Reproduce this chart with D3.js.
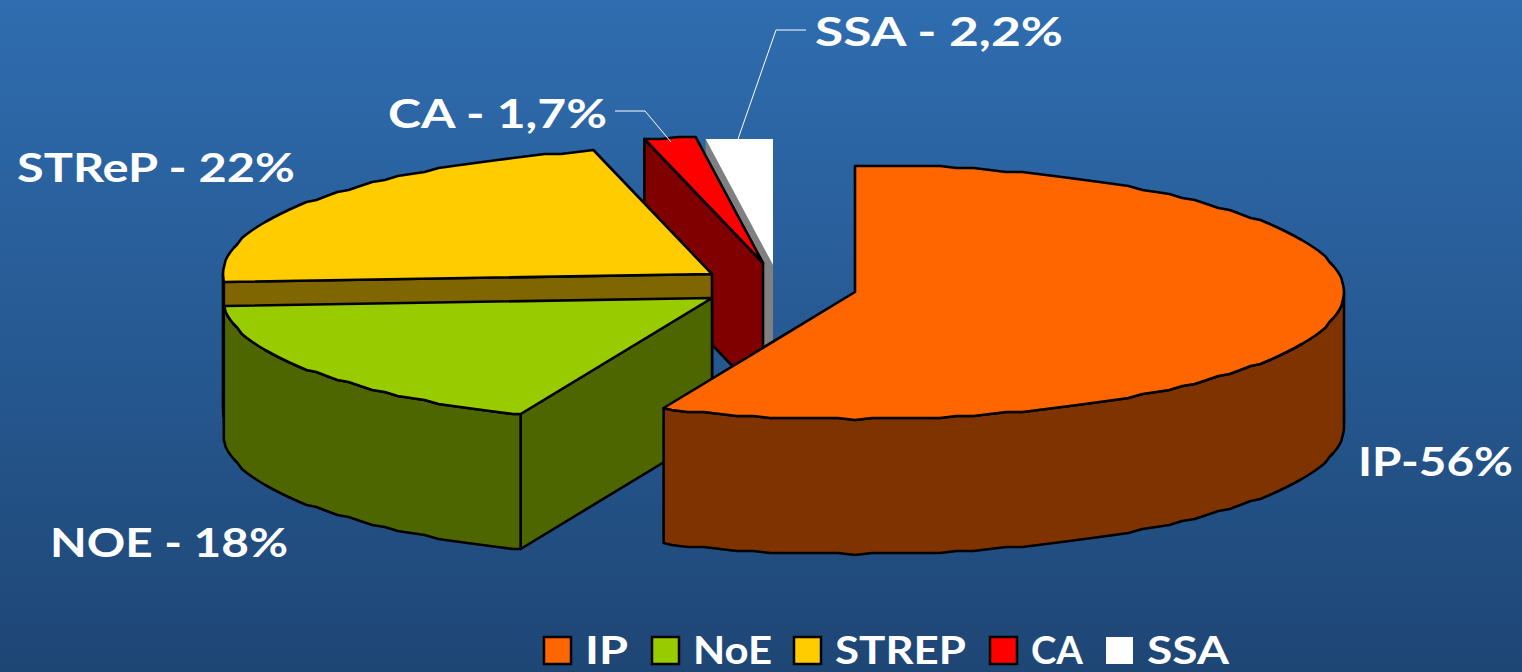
<!DOCTYPE html>
<html>
<head>
<meta charset="utf-8">
<title>Pie</title>
<script src="https://cdn.jsdelivr.net/npm/d3@7/dist/d3.min.js"></script>
<style>
  html, body { margin: 0; padding: 0; background: #1f4878; overflow: hidden; }
  svg { display: block; }
  text { font-family: "Lato", sans-serif; fill: #fff; }
</style>
</head>
<body>
<div id="chart"></div>
<script>
// values (slightly off the printed % so the wedges line up)
var categories = ["IP", "NoE", "STREP", "CA", "SSA"];
var shares = [56.4, 17.7, 22.0, 1.7, 2.2];
var sliceLabels = ["IP-56%", "NOE - 18%", "STReP - 22%", "CA - 1,7%", "SSA - 2,2%"];
var topColors = ["#ff6600", "#99cc00", "#ffcc00", "#ff0000", "#ffffff"];
var wallColors = ["#7f3300", "#4d6600", "#806600", "#800000", "#808080"];

var width = 1522;
var height = 672;
var rx = 489;
var ry = 127;
var depth = 135;

// where each exploded slice has its tip
var tips = [[855, 292], [712, 298], [712, 274], [763, 263], [773, 265]];
var strokes = ["#000", "#000", "#000", "#000", "none"];

var labelSpots = [
  {x: 1358, y: 476, w: 155},
  {x: 50, y: 557, w: 238},
  {x: 17, y: 182, w: 278},
  {x: 388, y: 128, w: 219},
  {x: 815, y: 46, w: 248}
];
var leaders = [
  null, null, null,
  [[671, 142], [645, 111], [615, 111]],
  [[738, 139], [776, 30], [806, 30]]
];
var legendSpots = [
  {box: 544, tx: 585, tw: 43},
  {box: 652, tx: 693, tw: 79},
  {box: 794, tx: 835, tw: 131},
  {box: 990, tx: 1031, tw: 52},
  {box: 1106, tx: 1147, tw: 82}
];

var svg = d3.select("#chart").append("svg")
  .attr("width", width)
  .attr("height", height);

var grad = svg.append("defs").append("linearGradient")
  .attr("id", "bg")
  .attr("x1", 0).attr("y1", 0).attr("x2", 0).attr("y2", 1);
grad.append("stop").attr("offset", "0%").attr("stop-color", "#2f6db0");
grad.append("stop").attr("offset", "100%").attr("stop-color", "#1e4675");

svg.append("rect")
  .attr("width", width)
  .attr("height", height)
  .attr("fill", "url(#bg)");

var pie = d3.pie().sort(null).value(function(d) { return d; })
  .startAngle(0).endAngle(Math.PI * 2);
var arcs = pie(shares);

var xs = d3.scaleLinear().domain([-1, 1]).range([-rx, rx]);
var ys = d3.scaleLinear().domain([-1, 1]).range([-ry, ry]);
var line = d3.line();
var step = 2 * Math.PI / 180;

// the source picture has a lumpy outline, so snap rim points to a coarse grid
function rimPoint(tip, a) {
  var px = xs(Math.sin(a));
  var py = ys(-Math.cos(a));
  return [tip[0] + px, tip[1] + Math.round(py / 2) * 2];
}

// sample on fixed angles so top face and front wall share the same outline
function rim(tip, a0, a1) {
  var pts = [rimPoint(tip, a0)];
  var k = Math.floor(a0 / step) + 1;
  while (k * step < a1) {
    pts.push(rimPoint(tip, k * step));
    k++;
  }
  pts.push(rimPoint(tip, a1));
  return pts;
}

function drop(p) { return [p[0], p[1] + depth]; }

function radialWall(tip, a) {
  var edge = rimPoint(tip, a);
  return line([tip, edge, drop(edge), drop(tip)]) + "Z";
}

// draw from the back of the pile to the front
d3.range(categories.length - 1, -1, -1).forEach(function(i) {
  var d = arcs[i];
  var tip = tips[i];
  var g = svg.append("g")
    .attr("stroke", strokes[i])
    .attr("stroke-width", 2.6)
    .attr("stroke-linejoin", "round");

  // only the cut walls that face the viewer
  if (d.startAngle > Math.PI) {
    g.append("path").attr("d", radialWall(tip, d.startAngle)).attr("fill", wallColors[i]);
  }
  if (d.endAngle < Math.PI) {
    g.append("path").attr("d", radialWall(tip, d.endAngle)).attr("fill", wallColors[i]);
  }

  var a0 = Math.max(d.startAngle, Math.PI / 2);
  var a1 = Math.min(d.endAngle, Math.PI * 1.5);
  if (a1 > a0) {
    var front = rim(tip, a0, a1);
    var wall = front.concat(front.map(drop).reverse());
    g.append("path").attr("d", line(wall) + "Z").attr("fill", wallColors[i]);
  }

  var face = [tip].concat(rim(tip, d.startAngle, d.endAngle));
  g.append("path").attr("d", line(face) + "Z").attr("fill", topColors[i]);
});

// leader lines
svg.selectAll("path.leader")
  .data(leaders.filter(function(d) { return d; }))
  .enter().append("path")
  .attr("class", "leader")
  .attr("d", function(d) { return line(d); })
  .attr("fill", "none")
  .attr("stroke", "#fff")
  .attr("stroke-width", 1);

svg.selectAll("text.slice")
  .data(sliceLabels)
  .enter().append("text")
  .attr("class", "slice")
  .attr("x", function(d, i) { return labelSpots[i].x; })
  .attr("y", function(d, i) { return labelSpots[i].y; })
  .attr("textLength", function(d, i) { return labelSpots[i].w; })
  .attr("lengthAdjust", "spacingAndGlyphs")
  .style("font-size", "41px")
  .style("font-weight", 700)
  .text(function(d) { return d; });

// legend
var legend = svg.selectAll("g.legend")
  .data(categories)
  .enter().append("g")
  .attr("class", "legend");

legend.append("rect")
  .attr("x", function(d, i) { return legendSpots[i].box; })
  .attr("y", 637)
  .attr("width", 27)
  .attr("height", 27)
  .attr("fill", function(d, i) { return topColors[i]; })
  .attr("stroke", function(d, i) { return strokes[i]; })
  .attr("stroke-width", 2.5);

legend.append("text")
  .attr("x", function(d, i) { return legendSpots[i].tx; })
  .attr("y", 664)
  .attr("textLength", function(d, i) { return legendSpots[i].tw; })
  .attr("lengthAdjust", "spacingAndGlyphs")
  .style("font-size", "38px")
  .style("font-weight", 700)
  .text(function(d) { return d; });
</script>
</body>
</html>
